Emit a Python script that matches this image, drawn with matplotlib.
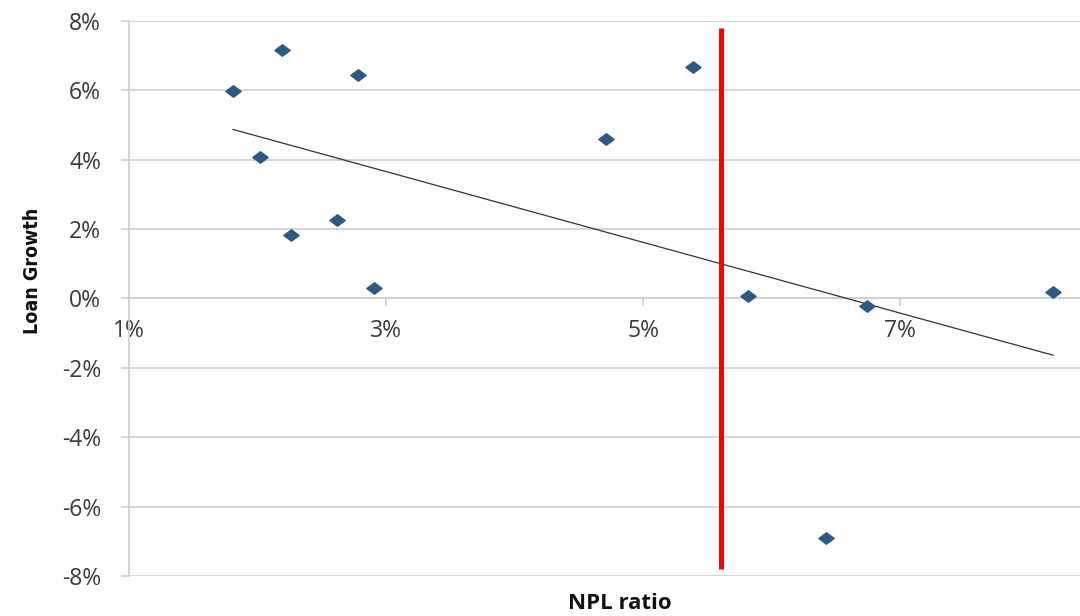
from __future__ import annotations

import matplotlib

matplotlib.use("Agg")
import matplotlib.pyplot as plt
import numpy as np
from matplotlib.path import Path
from matplotlib.ticker import FuncFormatter

# NPL ratio (%) vs loan growth (%)
npl_ratio = [1.81, 2.19, 2.02, 2.26, 2.62, 2.78, 2.91, 4.71, 5.39, 5.82, 6.74, 6.42, 8.19]
loan_growth = [5.99, 7.15, 4.09, 1.82, 2.25, 6.43, 0.29, 4.61, 6.66, 0.06, -0.23, -6.92, 0.20]

threshold_x = 5.61
threshold_span = (-7.8, 7.8)

x_ticks = [1, 3, 5, 7]
y_ticks = [-8, -6, -4, -2, 0, 2, 4, 6, 8]

plt.rcParams["font.family"] = ["Open Sans", "DejaVu Sans"]
plt.rcParams["axes.unicode_minus"] = False

fig = plt.figure(figsize=(10.8, 6.16), dpi=100)
ax = fig.add_axes([0.1194, 0.065, 0.8806, 0.901])

grid_color = "#d0d0d0"
text_color = "#3a3a3a"

for y in y_ticks:
    ax.axhline(y, color=grid_color, linewidth=1.2, zorder=0)

# wide, flat diamond like the Excel marker
diamond = Path([(-1, 0), (0, 0.75), (1, 0), (0, -0.75), (-1, 0)],
               [Path.MOVETO, Path.LINETO, Path.LINETO, Path.LINETO, Path.CLOSEPOLY])
ax.plot(npl_ratio, loan_growth, linestyle="none", marker=diamond, markersize=11,
        color="#2c5a84", zorder=4)

# linear trend line over the data range
slope, intercept = np.polyfit(npl_ratio, loan_growth, 1)
trend_x = np.array([min(npl_ratio), max(npl_ratio)])
ax.plot(trend_x, slope * trend_x + intercept, color="#333333", linewidth=0.9, zorder=3)

ax.vlines(threshold_x, *threshold_span, color="#ff0000", linewidth=3.6, zorder=5)

ax.set_xlim(1, 8.4)
ax.set_ylim(-8, 8)
ax.set_xticks(x_ticks)
ax.set_yticks(y_ticks)
pct = FuncFormatter(lambda v, _: f"{v:.0f}%")
ax.xaxis.set_major_formatter(pct)
ax.yaxis.set_major_formatter(pct)

ax.spines["top"].set_visible(False)
ax.spines["right"].set_visible(False)
ax.spines["bottom"].set_position(("data", 0))
ax.spines["bottom"].set_color(grid_color)
ax.spines["left"].set_color(grid_color)
ax.spines["left"].set_linewidth(1.2)
ax.spines["bottom"].set_linewidth(1.2)

ax.tick_params(axis="y", length=6, color=grid_color, width=1.2, pad=14,
               labelsize=16.5, labelcolor=text_color)
ax.tick_params(axis="x", length=6, color=grid_color, width=1.2, pad=9,
               labelsize=16.5, labelcolor=text_color)

fig.text(0.574, 0.02, "NPL ratio", ha="center", va="center", fontsize=16,
         fontweight="bold", color="#111111")
fig.text(0.03, 0.56, "Loan Growth", ha="center", va="center", rotation=90,
         fontsize=14, fontweight="bold", color="#111111",
         family="DejaVu Sans", fontstretch="condensed")

fig.savefig("out.png", dpi=100)
